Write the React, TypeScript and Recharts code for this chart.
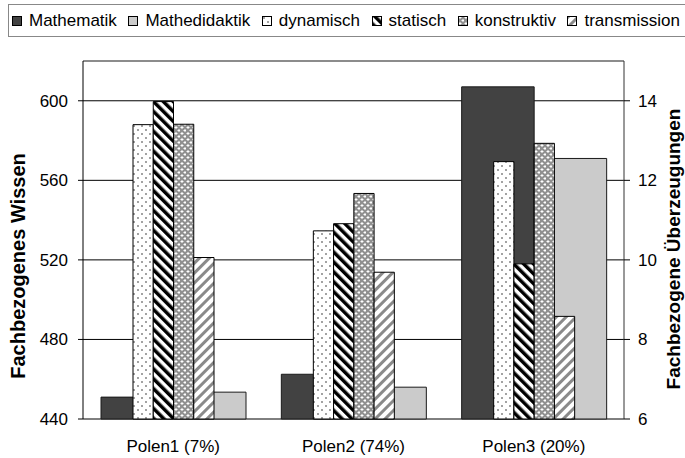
import React from 'react';
import { BarChart, Bar, XAxis, YAxis, CartesianGrid, ReferenceLine } from 'recharts';

const FONT = '"Liberation Sans", Arial, sans-serif';

const categories = ['Polen1 (7%)', 'Polen2 (74%)', 'Polen3 (20%)'];
const mathematik = [451, 462.5, 607];
const mathedidaktik = [453.5, 456, 571];
const dynamisch = [13.4, 10.73, 12.47];
const statisch = [13.98, 10.91, 9.9];
const konstruktiv = [13.41, 11.67, 12.93];
const transmission = [10.06, 9.69, 8.58];

const leftTicks = [440, 480, 520, 560, 600];
const rightTicks = [6, 8, 10, 12, 14];
const leftDomain = [440, 620];
const rightDomain = [6, 15];
const boundaryTicks = [0, 1, 2, 3];

const data = categories.map((name, i) => ({
  name,
  mathematik: mathematik[i],
  mathedidaktik: mathedidaktik[i],
  dynamisch: dynamisch[i],
  statisch: statisch[i],
  konstruktiv: konstruktiv[i],
  transmission: transmission[i],
}));

const wideSeries = [
  { key: 'mathematik', label: 'Mathematik', fill: '#424242' },
  { key: 'mathedidaktik', label: 'Mathedidaktik', fill: '#cbcbcb' },
];
const narrowSeries = [
  { key: 'dynamisch', label: 'dynamisch', fill: 'url(#patDyn)' },
  { key: 'statisch', label: 'statisch', fill: 'url(#patStat)' },
  { key: 'konstruktiv', label: 'konstruktiv', fill: 'url(#patKon)' },
  { key: 'transmission', label: 'transmission', fill: 'url(#patTrans)' },
];

const LeftTitle = (props: any) => {
  const vb = props.viewBox || { x: 0, y: 0, width: 0, height: 0 };
  const x = vb.x + 25;
  const y = vb.y + vb.height / 2 + 26;
  return (
    <text x={x} y={y} transform={`rotate(-90, ${x}, ${y})`} textAnchor="middle" fontWeight="bold" fontSize={20} fontFamily={FONT} fill="#000">
      Fachbezogenes Wissen
    </text>
  );
};

const RightTitle = (props: any) => {
  const vb = props.viewBox || { x: 0, y: 0, width: 0, height: 0 };
  const x = vb.x + 56;
  const y = vb.y + vb.height / 2 + 9;
  return (
    <text x={x} y={y} transform={`rotate(-90, ${x}, ${y})`} textAnchor="middle" fontWeight="bold" fontSize={19} fontFamily={FONT} fill="#000">
      Fachbezogene Überzeugungen
    </text>
  );
};

const Patterns = () => (
  <defs>
    <pattern id="patDyn" patternUnits="userSpaceOnUse" width={8} height={8}>
      <rect x={0} y={0} width={8} height={8} fill="#fff" />
      <circle cx={2} cy={2} r={0.7} fill="#000" />
      <circle cx={6} cy={6} r={0.7} fill="#000" />
    </pattern>
    <pattern id="patStat" patternUnits="userSpaceOnUse" width={7} height={7} patternTransform="rotate(-45)">
      <rect x={0} y={0} width={7} height={7} fill="#fff" />
      <rect x={0} y={0} width={3.5} height={7} fill="#000" />
    </pattern>
    <pattern id="patTrans" patternUnits="userSpaceOnUse" width={7} height={7} patternTransform="rotate(45)">
      <rect x={0} y={0} width={7} height={7} fill="#fff" />
      <rect x={0} y={0} width={3} height={7} fill="#8a8a8a" />
    </pattern>
    <pattern id="patKon" patternUnits="userSpaceOnUse" width={6} height={6}>
      <rect x={0} y={0} width={6} height={6} fill="#909090" />
      <rect x={0.5} y={1} width={3} height={1} fill="#fff" />
      <rect x={1.5} y={0} width={1} height={3} fill="#fff" />
      <rect x={3.5} y={4} width={3} height={1} fill="#fff" />
      <rect x={4.5} y={3} width={1} height={3} fill="#fff" />
    </pattern>
  </defs>
);

const legendItems = [...wideSeries, ...narrowSeries];

export default function App() {
  return (
    <div style={{ position: 'absolute', left: 0, top: 0, width: 685, height: 458, background: '#fff', fontFamily: FONT }}>
      <div
        style={{
          position: 'absolute',
          left: 8,
          top: 4,
          width: 684,
          height: 33,
          boxSizing: 'border-box',
          border: '1px solid #888',
          display: 'flex',
          alignItems: 'center',
          paddingLeft: 3,
          gap: 11.5,
          fontSize: 17,
          color: '#000',
          whiteSpace: 'nowrap',
          overflow: 'hidden',
        }}
      >
        {legendItems.map((it) => (
          <div key={it.key} style={{ display: 'flex', alignItems: 'center' }}>
            <svg width={10} height={10} style={{ marginRight: 7, display: 'block' }}>
              <rect x={0.5} y={0.5} width={9} height={9} fill={it.fill} stroke="#000" strokeWidth={1} />
            </svg>
            <span>{it.label}</span>
          </div>
        ))}
      </div>
      <BarChart
        width={685}
        height={458}
        data={data}
        margin={{ top: 61, right: 0, bottom: 0, left: 0 }}
        barGap={0}
        style={{ position: 'absolute', left: 0, top: 0 }}
      >
        <Patterns />
        <XAxis
          xAxisId="x1"
          type="number"
          domain={[0, 3]}
          ticks={boundaryTicks}
          allowDataOverflow
          height={0}
          tick={false}
          tickSize={5}
          axisLine={{ stroke: '#000' }}
          tickLine={{ stroke: '#000' }}
        />
        <XAxis
          xAxisId="x2"
          dataKey="name"
          height={39}
          axisLine={false}
          tickLine={false}
          tickSize={6}
          tickMargin={15}
          interval={0}
          tick={{ fill: '#000', fontSize: 17, fontFamily: FONT }}
        />
        <XAxis xAxisId="x3" dataKey="name" hide />
        <YAxis
          yAxisId="left"
          domain={leftDomain}
          ticks={leftTicks}
          width={83}
          tickSize={5}
          tickMargin={10}
          axisLine={{ stroke: '#000' }}
          tickLine={{ stroke: '#000' }}
          tick={{ fill: '#000', fontSize: 17, fontFamily: FONT }}
          label={{ content: LeftTitle }}
        />
        <YAxis
          yAxisId="right"
          orientation="right"
          domain={rightDomain}
          ticks={rightTicks}
          width={61}
          tickSize={6}
          tickMargin={8}
          axisLine={{ stroke: '#333' }}
          tickLine={{ stroke: '#000' }}
          tick={{ fill: '#000', fontSize: 17, fontFamily: FONT }}
          label={{ content: RightTitle }}
        />
        <CartesianGrid xAxisId="x2" yAxisId="left" vertical={false} stroke="#000" />
        <ReferenceLine xAxisId="x2" yAxisId="left" y={620} stroke="#999" />
        {wideSeries.map((s) => (
          <Bar
            key={s.key}
            xAxisId="x2"
            yAxisId="left"
            dataKey={s.key}
            name={s.label}
            fill={s.fill}
            stroke="#1a1a1a"
            strokeWidth={1}
            barSize={72.5}
            isAnimationActive={false}
          />
        ))}
        {narrowSeries.map((s) => (
          <Bar
            key={s.key}
            xAxisId="x3"
            yAxisId="right"
            dataKey={s.key}
            name={s.label}
            fill={s.fill}
            stroke="#000"
            strokeWidth={1}
            barSize={20.25}
            isAnimationActive={false}
          />
        ))}
      </BarChart>
    </div>
  );
}
